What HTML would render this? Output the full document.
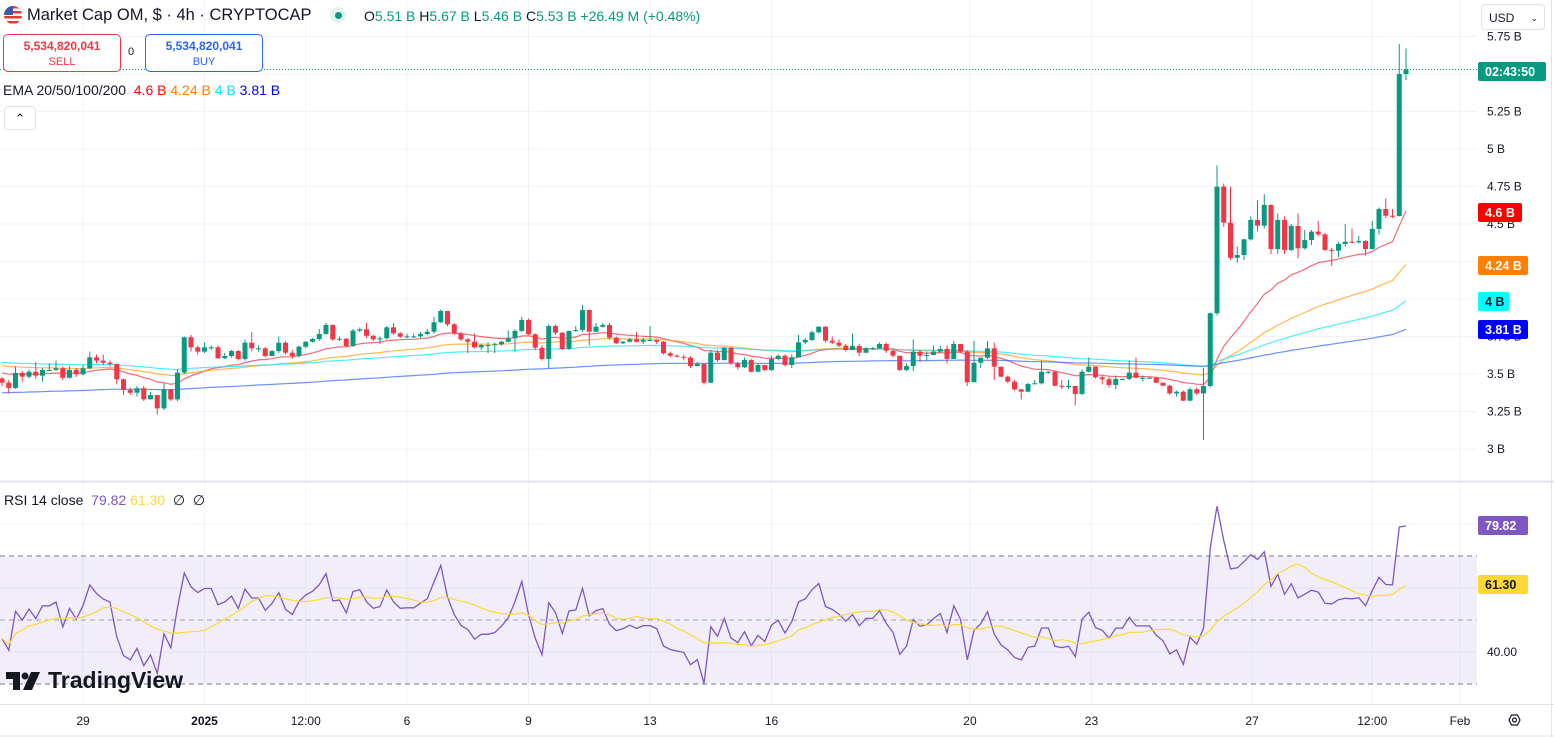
<!DOCTYPE html>
<html><head><meta charset="utf-8">
<style>
body{margin:0;background:#fff;font-family:"Liberation Sans",sans-serif;}
#wrap{position:relative;width:1554px;height:737px;overflow:hidden;}
svg text{font-family:"Liberation Sans",sans-serif;}
</style></head>
<body>
<div id="wrap">
<svg id="chart" width="1554" height="737"></svg>
</div>
<script>
const closes=[3.442,3.407,3.507,3.482,3.515,3.489,3.527,3.527,3.538,3.475,3.527,3.498,3.538,3.611,3.589,3.575,3.567,3.465,3.393,3.375,
3.405,3.331,3.36,3.271,3.398,3.331,3.509,3.745,3.678,3.649,3.678,3.678,3.605,3.62,3.653,3.6,3.709,3.671,3.671,3.62,
3.653,3.709,3.642,3.62,3.682,3.715,3.733,3.767,3.827,3.731,3.735,3.687,3.789,3.798,3.755,3.731,3.738,3.811,3.771,3.749,
3.751,3.751,3.767,3.782,3.845,3.92,3.831,3.771,3.731,3.715,3.678,3.693,3.693,3.698,3.715,3.738,3.787,3.86,3.765,3.675,
3.6,3.82,3.775,3.667,3.787,3.793,3.927,3.782,3.815,3.827,3.742,3.705,3.715,3.731,3.715,3.727,3.727,3.715,3.638,3.622,
3.615,3.609,3.553,3.567,3.442,3.642,3.593,3.675,3.571,3.545,3.593,3.515,3.56,3.527,3.6,3.622,3.56,3.611,3.711,3.727,
3.778,3.815,3.722,3.709,3.689,3.66,3.687,3.642,3.671,3.671,3.7,3.655,3.622,3.527,3.553,3.649,3.622,3.627,3.649,3.667,
3.6,3.7,3.649,3.445,3.575,3.609,3.671,3.549,3.482,3.449,3.398,3.382,3.433,3.438,3.515,3.515,3.422,3.415,3.42,3.367,
3.515,3.549,3.478,3.465,3.427,3.467,3.467,3.509,3.475,3.475,3.475,3.442,3.422,3.371,3.382,3.322,3.398,3.371,3.42,3.905,
4.749,4.509,4.275,4.293,4.398,4.527,4.489,4.627,4.333,4.527,4.327,4.487,4.338,4.393,4.449,4.431,4.327,4.322,4.367,4.382,
4.378,4.387,4.333,4.467,4.6,4.555,4.553,5.5,5.53];
const highs=[3.48,3.46,3.55,3.52,3.53,3.58,3.54,3.57,3.59,3.55,3.55,3.54,3.56,3.65,3.63,3.63,3.59,3.57,3.47,3.41,
3.42,3.42,3.38,3.36,3.44,3.40,3.53,3.75,3.76,3.69,3.71,3.69,3.69,3.64,3.66,3.66,3.73,3.78,3.69,3.68,
3.66,3.75,3.72,3.66,3.69,3.72,3.74,3.80,3.84,3.83,3.75,3.74,3.80,3.81,3.84,3.76,3.75,3.82,3.84,3.78,
3.77,3.77,3.78,3.80,3.88,3.93,3.92,3.84,3.78,3.74,3.77,3.70,3.71,3.71,3.72,3.79,3.80,3.88,3.87,3.77,
3.69,3.83,3.83,3.78,3.79,3.82,3.96,3.93,3.84,3.84,3.84,3.75,3.72,3.74,3.78,3.74,3.82,3.73,3.72,3.65,
3.63,3.63,3.62,3.58,3.57,3.66,3.66,3.68,3.68,3.58,3.61,3.60,3.57,3.56,3.62,3.63,3.63,3.63,3.76,3.74,
3.79,3.82,3.82,3.75,3.73,3.70,3.77,3.70,3.68,3.68,3.71,3.71,3.67,3.62,3.57,3.73,3.66,3.65,3.69,3.69,
3.69,3.72,3.70,3.66,3.72,3.61,3.72,3.71,3.55,3.49,3.46,3.40,3.44,3.46,3.59,3.52,3.52,3.46,3.46,3.42,
3.53,3.61,3.55,3.49,3.48,3.49,3.47,3.59,3.61,3.49,3.48,3.48,3.44,3.43,3.39,3.39,3.41,3.41,3.54,3.91,
4.89,4.77,4.75,4.35,4.40,4.55,4.66,4.70,4.63,4.57,4.55,4.50,4.57,4.46,4.46,4.52,4.44,4.34,4.38,4.50,
4.47,4.42,4.39,4.52,4.61,4.67,4.60,5.70,5.67];
const lows=[3.42,3.37,3.40,3.45,3.47,3.47,3.45,3.52,3.52,3.46,3.47,3.48,3.49,3.53,3.57,3.56,3.55,3.43,3.36,3.36,
3.35,3.32,3.33,3.23,3.26,3.32,3.32,3.50,3.65,3.63,3.64,3.66,3.60,3.60,3.61,3.59,3.59,3.65,3.65,3.61,
3.62,3.64,3.63,3.60,3.61,3.67,3.71,3.72,3.76,3.72,3.72,3.68,3.68,3.78,3.74,3.72,3.70,3.73,3.76,3.74,
3.74,3.74,3.74,3.76,3.77,3.84,3.82,3.76,3.72,3.64,3.67,3.66,3.64,3.64,3.69,3.71,3.65,3.78,3.76,3.66,
3.59,3.54,3.76,3.66,3.66,3.78,3.78,3.69,3.78,3.81,3.73,3.70,3.70,3.71,3.71,3.70,3.72,3.70,3.63,3.61,
3.61,3.59,3.54,3.55,3.43,3.44,3.58,3.59,3.56,3.53,3.54,3.51,3.51,3.52,3.52,3.59,3.55,3.54,3.61,3.70,
3.72,3.77,3.71,3.70,3.68,3.65,3.66,3.62,3.64,3.66,3.67,3.64,3.61,3.52,3.52,3.52,3.58,3.59,3.64,3.64,
3.57,3.60,3.64,3.42,3.45,3.54,3.60,3.46,3.48,3.44,3.39,3.33,3.38,3.43,3.43,3.50,3.42,3.40,3.40,3.29,
3.36,3.51,3.47,3.43,3.41,3.40,3.46,3.46,3.47,3.45,3.47,3.44,3.42,3.36,3.35,3.32,3.32,3.36,3.06,3.41,
3.89,4.48,4.26,4.24,4.26,4.39,4.45,4.47,4.30,4.30,4.30,4.32,4.27,4.33,4.36,4.42,4.32,4.22,4.28,4.35,
4.37,4.37,4.29,4.33,4.43,4.54,4.54,4.55,5.46];
const firstOpen=3.47;
const emaPeriods=[20,50,100,200];
const emaSeeds=[3.515,3.56,3.58,3.375];
const emaColors=['#f23645','#ff9800','#00e5ff','#2962ff'];
const priceTicks=[3,3.25,3.5,3.75,4,4.25,4.5,4.75,5,5.25,5.5,5.75];
const priceTickLabels=['3 B','3.25 B','3.5 B','3.75 B','4 B','4.25 B','4.5 B','4.75 B','5 B','5.25 B','5.5 B','5.75 B'];
const rsiGrid=[80,60,40];
const rsiBands=[70,50,30];
const timeLabels=['29','2025','12:00','6','9','13','16','20','23','27','12:00','Feb'];
const timeIdx=[12,30,45,60,78,96,114,143.4,161.4,185.2,203,216];

const NS='http://www.w3.org/2000/svg';
const svg=document.getElementById('chart');
function el(tag,attrs,parent){const e=document.createElementNS(NS,tag);for(const k in attrs)e.setAttribute(k,attrs[k]);(parent||svg).appendChild(e);return e;}
const PLOT_R=1477;
const xOf=i=>2+i*6.75;
const yP=p=>449-(p-3)*150;
const yR=r=>620-(r-50)*3.2;

const grid=el('g',{});


priceTicks.forEach(p=>el('line',{x1:0,x2:PLOT_R,y1:yP(p),y2:yP(p),stroke:'#f0f3fa','stroke-width':1},grid));
rsiGrid.forEach(r=>el('line',{x1:0,x2:PLOT_R,y1:yR(r),y2:yR(r),stroke:'#f0f3fa','stroke-width':1},grid));
timeIdx.forEach(i=>el('line',{x1:xOf(i),x2:xOf(i),y1:0,y2:704,stroke:'#f0f3fa','stroke-width':1},grid));

emaPeriods.forEach((n,k)=>{
  const a=2/(n+1);let e=emaSeeds[k];const pts=[];
  closes.forEach((c,i)=>{e=e+a*(c-e);pts.push(xOf(i).toFixed(1)+','+yP(e).toFixed(1));});
  const pl=el('polyline',{points:pts.join(' '),fill:'none',stroke:emaColors[k],'stroke-width':1.2,'stroke-opacity':k==0?0.75:0.7});
  
  
});

const cg=el('g',{});


closes.forEach((c,i)=>{
  const o=i==0?firstOpen:closes[i-1];
  const col=c>=o?'#089981':'#f23645';
  const x=xOf(i);
  const w=el('line',{x1:x,x2:x,y1:yP(highs[i]),y2:yP(lows[i]),stroke:col,'stroke-width':1},cg);
  
  
  const t=Math.min(yP(o),yP(c));const h=Math.max(1,Math.abs(yP(o)-yP(c)));
  const b=el('rect',{x:x-2.5,y:t,width:5,height:h,fill:col},cg);
  
  
});
const last=closes[closes.length-1];
const cpl=el('line',{x1:0,x2:PLOT_R,y1:yP(last),y2:yP(last),stroke:'#089981','stroke-width':1,'stroke-dasharray':'1 2'});



const band=el('rect',{x:0,y:yR(70),width:PLOT_R,height:yR(30)-yR(70),fill:'#7e57c2','fill-opacity':0.1});


rsiBands.forEach(r=>{const l=el('line',{x1:0,x2:PLOT_R,y1:yR(r),y2:yR(r),stroke:r==50?'#a0a0a8':'#787b86','stroke-width':1,'stroke-dasharray':'5 4'});
 
 });
let ag=0.014,al=0.0155;const rsi=[];
closes.forEach((c,i)=>{const o=i==0?firstOpen:closes[i-1];const d=c-o;ag=(ag*13+Math.max(d,0))/14;al=(al*13+Math.max(-d,0))/14;rsi.push(100-100/(1+ag/al));});
const rsiMa=rsi.map((v,i)=>{const s=rsi.slice(Math.max(0,i-13),i+1);return s.reduce((a,b)=>a+b,0)/s.length;});
const rl=el('polyline',{points:rsi.map((v,i)=>xOf(i).toFixed(1)+','+yR(v).toFixed(1)).join(' '),fill:'none',stroke:'#7e57c2','stroke-width':1.3});


const ml=el('polyline',{points:rsiMa.map((v,i)=>xOf(i).toFixed(1)+','+yR(v).toFixed(1)).join(' '),fill:'none',stroke:'#fdd835','stroke-width':1.2});



el('line',{x1:0,x2:1554,y1:481.5,y2:481.5,stroke:'#e0e3eb','stroke-width':2});
el('line',{x1:0,x2:1554,y1:704.5,y2:704.5,stroke:'#e0e3eb','stroke-width':1});
el('line',{x1:1551.5,x2:1551.5,y1:0,y2:737,stroke:'#e0e3eb','stroke-width':1});
el('line',{x1:0,x2:1554,y1:736,y2:736,stroke:'#e0e3eb','stroke-width':1});

const ax=el('g',{'font-size':12,fill:'#131722'});


priceTicks.forEach((p,k)=>{const t=el('text',{x:1487,y:yP(p)+4},ax);t.textContent=priceTickLabels[k];});
const rax=el('g',{'font-size':12,fill:'#131722'});


el('text',{x:1487,y:yR(40)+4},rax).textContent='40.00';

function tag(name,y,w,bg,fg,txt){const g=el('g',{});
 el('rect',{x:1478,y:y-9,width:w,height:19,rx:2,fill:bg},g);
 const t=el('text',{x:1485,y:y+5,'font-size':12.5,fill:fg,'font-weight':'bold'},g);t.textContent=txt;}
tag('countdown-label',71,68,'#089981','#fff','02:43:50');
tag('ema20-label',212,44,'#ff0000','#fff','4.6 B');
tag('ema50-label',265,50,'#ff7f00','#fff','4.24 B');
tag('ema100-label',301,31,'#00ffff','#131722','4 B');
tag('ema200-label',329,50,'#0000ff','#fff','3.81 B');
tag('rsi-value-label',525,50,'#7e57c2','#fff','79.82');
tag('rsi-ma-label',584,50,'#fdd835','#131722','61.30');

const tg=el('g',{'font-size':12,fill:'#131722','text-anchor':'middle'});


timeLabels.forEach((s,k)=>{const t=el('text',{x:xOf(timeIdx[k]),y:725,'font-weight':s=='2025'?'bold':'normal'},tg);t.textContent=s;});
const si=el('polygon',{points:'1509,720 1511.5,715 1517.5,715 1520,720 1517.5,725 1511.5,725',fill:'none',stroke:'#131722','stroke-width':1.2});


el('circle',{cx:1514.5,cy:720,r:2,fill:'none',stroke:'#131722','stroke-width':1.2});
</script>

<div style="position:absolute;left:4px;top:6px;width:18px;height:18px;border-radius:50%;overflow:hidden;background:repeating-linear-gradient(#e03c31 0 2.5px,#fff 2.5px 5px);"><div style="width:9px;height:9px;background:#3c5aa6"></div></div>
<div style="position:absolute;left:27px;top:6px;font-size:16.5px;color:#131722;white-space:nowrap">Market Cap OM, $ · 4h · CRYPTOCAP</div>
<div style="position:absolute;left:330px;top:7px;width:16px;height:16px;border-radius:50%;background:#dff3ef"><div style="position:absolute;left:4.5px;top:4.5px;width:7px;height:7px;border-radius:50%;background:#089981"></div></div>
<div style="position:absolute;left:364px;top:8px;font-size:14px;color:#089981;white-space:nowrap"><span style="color:#131722">O</span>5.51 B <span style="color:#131722">H</span>5.67 B <span style="color:#131722">L</span>5.46 B <span style="color:#131722">C</span>5.53 B +26.49 M (+0.48%)</div>
<div style="position:absolute;left:3px;top:34px;width:116px;height:36px;border:1px solid #f23645;border-radius:5px;background:#fff;color:#f23645;text-align:center;font-size:12px;line-height:16px"><div style="font-weight:bold;margin-top:3px">5,534,820,041</div><div style="font-size:11px">SELL</div></div>
<div style="position:absolute;left:128px;top:46px;font-size:11px;color:#131722">0</div>
<div style="position:absolute;left:145px;top:34px;width:116px;height:36px;border:1px solid #2962ff;border-radius:5px;background:#fff;color:#2962ff;text-align:center;font-size:12px;line-height:16px"><div style="font-weight:bold;margin-top:3px">5,534,820,041</div><div style="font-size:11px">BUY</div></div>
<div style="position:absolute;left:3px;top:82px;font-size:14px;color:#131722;white-space:nowrap">EMA 20/50/100/200 &nbsp;<span style="color:#ff0000">4.6 B</span> <span style="color:#ff7f00">4.24 B</span> <span style="color:#00e5ff">4 B</span> <span style="color:#0000ff">3.81 B</span></div>
<div style="position:absolute;left:4px;top:106px;width:30px;height:22px;border:1px solid #e0e3eb;border-radius:4px;background:#fff;font-size:13px;text-align:center;line-height:24px;color:#131722">&#8963;</div>
<div style="position:absolute;left:4px;top:492px;font-size:14px;color:#131722;white-space:nowrap">RSI 14 close &nbsp;<span style="color:#7e57c2">79.82</span> <span style="color:#fdd835">61.30</span> &nbsp;∅ &nbsp;∅</div>
<div style="position:absolute;left:1481px;top:4px;width:64px;height:26px;border:1px solid #e0e3eb;border-radius:4px;background:#fff;font-size:12px;line-height:26px;color:#131722;padding-left:7px;box-sizing:border-box">USD <span style="position:absolute;right:6px;font-size:9px">&#8964;</span></div>
<div style="position:absolute;left:6px;top:668px;height:28px;white-space:nowrap">
<svg width="36" height="20" style="position:absolute;left:0;top:4px"><path d="M0 0H14V18H7V7H0Z" fill="#131722"/><circle cx="19" cy="4" r="3.5" fill="#131722"/><path d="M25 0H34L26 18H17Z" fill="#131722"/></svg>
<span style="position:absolute;left:42px;top:-1px;font-size:23px;font-weight:bold;color:#131722">TradingView</span></div>
</body></html>
